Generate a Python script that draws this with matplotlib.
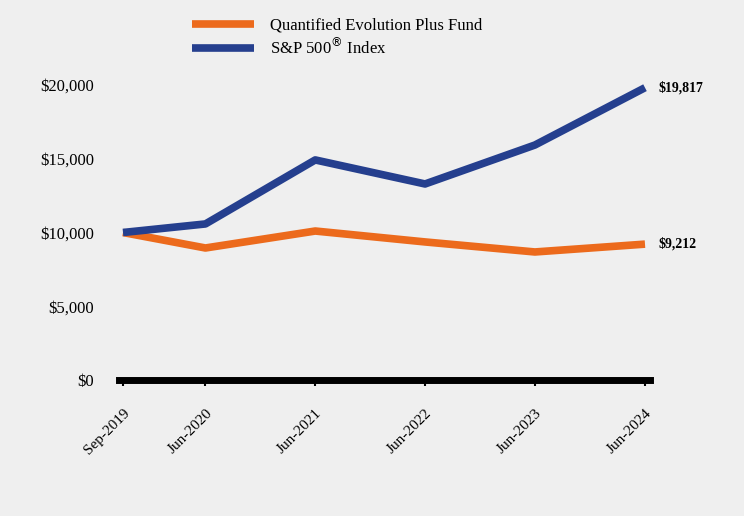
import matplotlib.pyplot as plt
import matplotlib.dates as mdates
import datetime as dt

plt.rcParams['font.family'] = ['Liberation Serif', 'DejaVu Serif']

dates = [dt.date(2019, 9, 30), dt.date(2020, 6, 30), dt.date(2021, 6, 30),
         dt.date(2022, 6, 30), dt.date(2023, 6, 30), dt.date(2024, 6, 30)]
tick_labels = ["Sep-2019", "Jun-2020", "Jun-2021", "Jun-2022", "Jun-2023", "Jun-2024"]
fund = [10000, 8950, 10100, 9360, 8680, 9212]
sp500 = [10000, 10580, 14920, 13290, 15930, 19817]

bg = "#efefef"
orange = "#ec6a1c"
blue = "#253f8e"

fig = plt.figure(figsize=(7.44, 5.16), dpi=100, facecolor=bg)
ax = fig.add_axes([119 / 744, (516 - 380) / 516, (650 - 119) / 744, 310 / 516])
ax.set_facecolor(bg)

x = mdates.date2num(dates)
ax.plot(x, fund, color=orange, lw=5.5, solid_capstyle="butt",
        label="Quantified Evolution Plus Fund", zorder=3)
ax.plot(x, sp500, color=blue, lw=5.5, solid_capstyle="butt",
        label="S&P 500$^{\\circledR}$ Index", zorder=4)

span = x[-1] - x[0]
ax.set_xlim(x[0] - span * 4 / 522, x[-1] + span * 5 / 522)
ax.set_ylim(0, 20000 * 310 / 295)

ax.set_yticks([0, 5000, 10000, 15000, 20000])
ax.set_yticklabels(["$0", "$5,000", "$10,000", "$15,000", "$20,000"], fontsize=12)
ax.set_xticks(x)
ax.set_xticklabels(tick_labels, fontsize=11, rotation=45, ha="right",
                   rotation_mode="anchor")

for s in ["top", "right", "left"]:
    ax.spines[s].set_visible(False)
ax.spines["bottom"].set_linewidth(5)
ax.spines["bottom"].set_zorder(5)
ax.tick_params(axis="y", length=0, pad=18)
ax.tick_params(axis="x", length=4, width=1.5, pad=15)

ax.annotate("$19,817", (x[-1], sp500[-1]), xytext=(10, 0), textcoords="offset points",
            fontsize=10, fontweight="bold", va="center", annotation_clip=False)
ax.annotate("$9,212", (x[-1], fund[-1]), xytext=(10, 0), textcoords="offset points",
            fontsize=10, fontweight="bold", va="center", annotation_clip=False)

leg = fig.legend(loc="upper left", bbox_to_anchor=(177 / 744, 1 - 3 / 516),
                 frameon=False, fontsize=12, handlelength=3.7, handletextpad=1.0,
                 labelspacing=0.2)

fig.savefig("out.png", dpi=100, facecolor=bg)
